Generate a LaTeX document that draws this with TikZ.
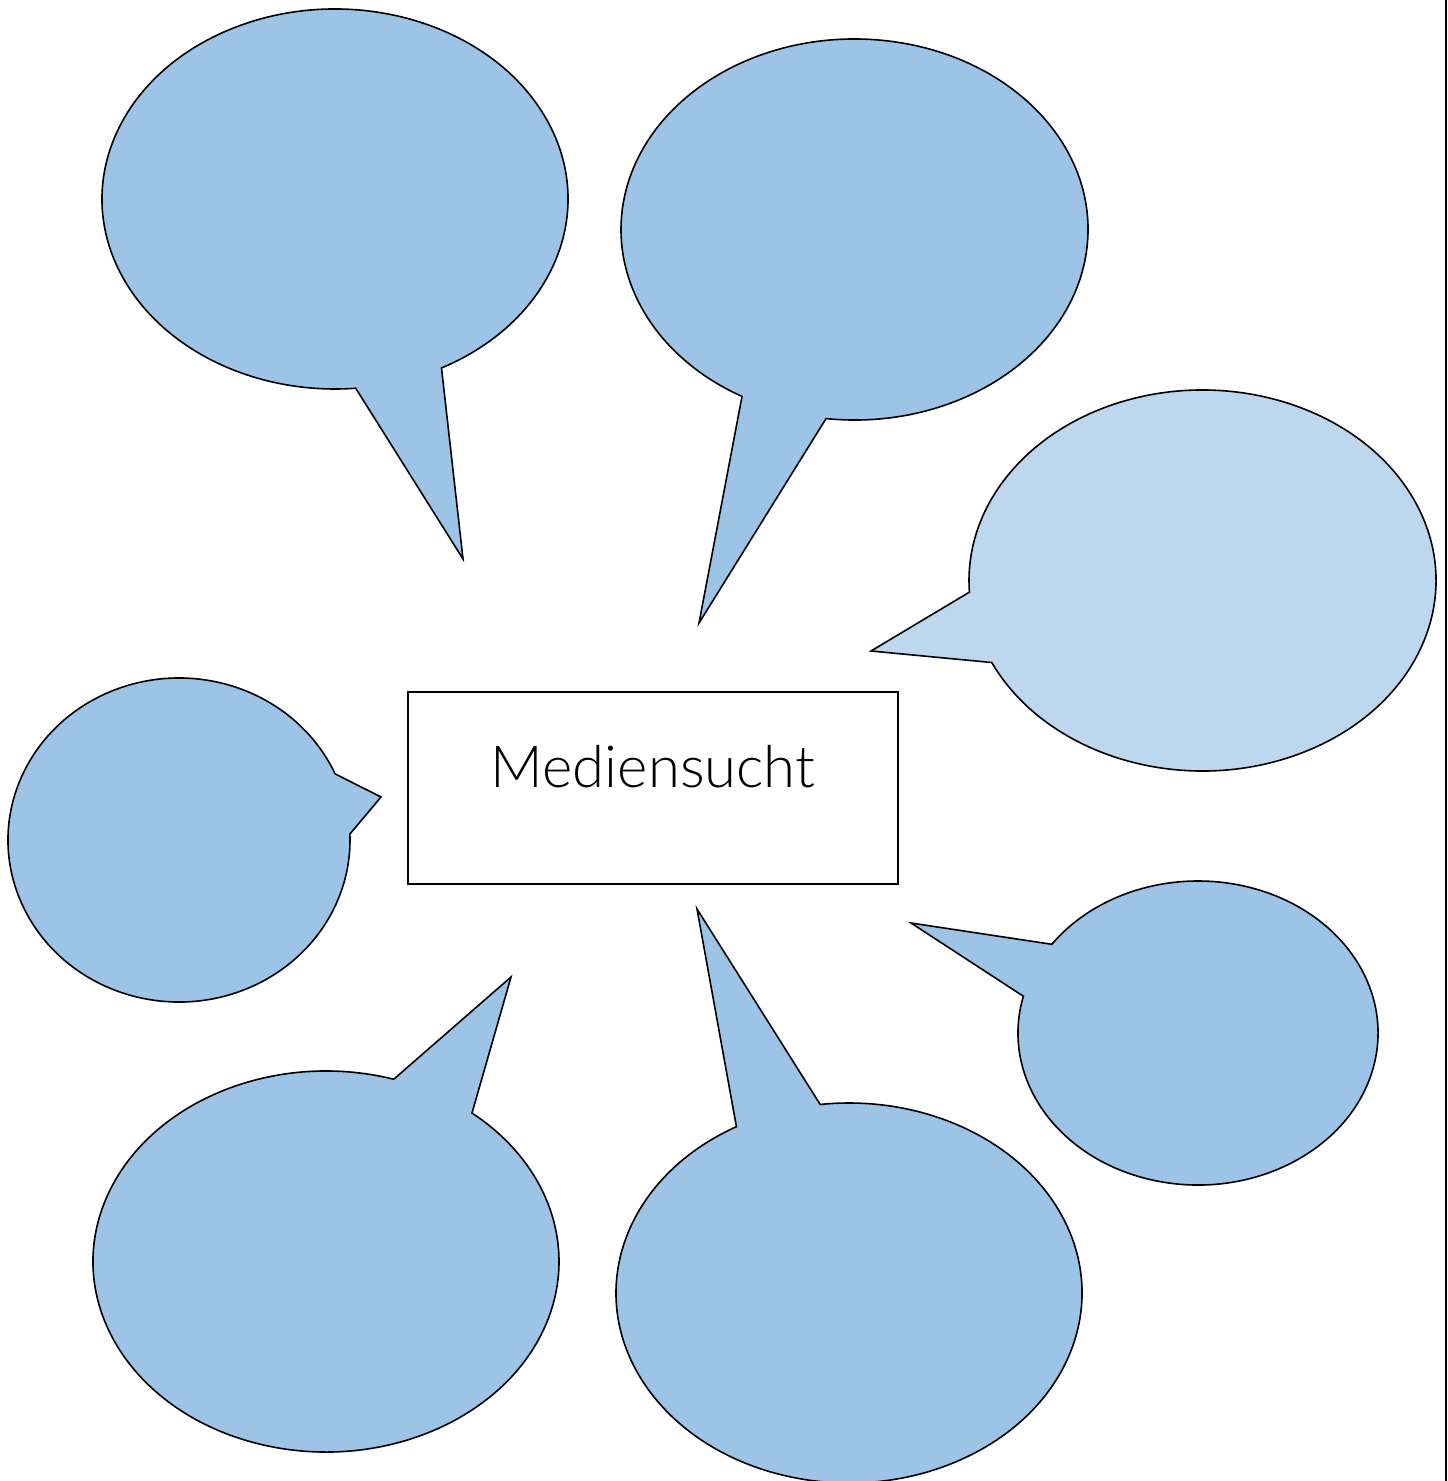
\documentclass[tikz,border=0pt]{standalone}
\usepackage{fontspec}
\setmainfont{Carlito}
\newfontfamily\thinfont{Lato Light}
\definecolor{bubble}{HTML}{9DC3E6}
\definecolor{bubblelight}{HTML}{BDD7EE}
% #1 name, #2 centre, #3 x radius, #4 y radius, #5 start angle, #6 end angle, #7 tip, #8 fill
\newcommand{\speechbubble}[8]{%
  \coordinate (#1-c) at #2;
  \coordinate (#1-tip) at #7;
  \path[bubbleline, fill=#8] (#1-c) ++(#5:#3 and #4)
    arc[start angle=#5, end angle=#6, x radius=#3, y radius=#4]
    -- (#1-tip) -- cycle;
}
\begin{document}
\begin{tikzpicture}[x=0.5pt, y=0.5pt,
  bubbleline/.style={draw=black, line width=0.8pt, line join=miter},
  titlebox/.style={draw=black, line width=1pt, fill=white, minimum width=245pt, minimum height=96pt, inner sep=0pt},
  titletext/.style={font=\thinfont\fontsize{29}{35}\selectfont, inner sep=0pt}]
\useasboundingbox (0,0) rectangle (1447,-1481);

\speechbubble{b1}{(335,-199)}{233}{190}{-62.8}{275.1}{(463,-559)}{bubble}
\speechbubble{b2}{(854.5,-229.5)}{233.5}{190.5}{263}{601.2}{(699,-623)}{bubble}
\speechbubble{b3}{(1202.5,-580.5)}{233.5}{190.5}{205.5}{543.5}{(871,-651)}{bubblelight}
\speechbubble{b4}{(179,-840)}{171}{162}{24.1}{362.1}{(381,-797)}{bubble}
\speechbubble{b5}{(326,-1261.5)}{233}{190.5}{73.1}{411.2}{(511,-977)}{bubble}
\speechbubble{b6}{(849,-1293)}{233}{190}{118.9}{457.1}{(697,-909)}{bubble}
\speechbubble{b7}{(1198,-1033)}{180}{152}{166}{504.3}{(911,-923)}{bubble}

\node[titlebox] (box) at (653,-788) {};
\node[titletext, anchor=base] (title) at (653,-787) {Mediensucht};

\coordinate (edgetop) at (1446,0);
\coordinate (edgebottom) at (1446,-1481);
\draw[line width=1pt] (edgetop) -- (edgebottom);
\end{tikzpicture}
\end{document}
